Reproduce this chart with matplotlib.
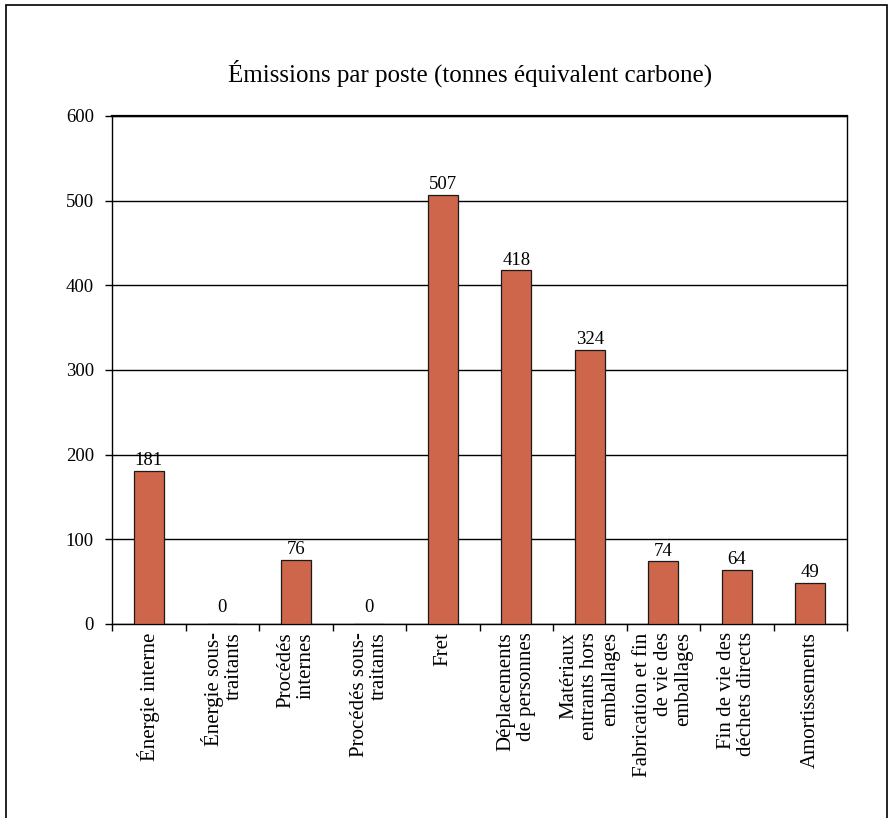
import matplotlib
matplotlib.use("Agg")
import matplotlib.pyplot as plt
from matplotlib.patches import Rectangle
import numpy as np

categories = [
    "Énergie interne",
    "Énergie sous-\ntraitants",
    "Procédés\ninternes",
    "Procédés sous-\ntraitants",
    "Fret",
    "Déplacements\nde personnes",
    "Matériaux\nentrants hors\nemballages",
    "Fabrication et fin\nde vie des\nemballages",
    "Fin de vie des\ndéchets directs",
    "Amortissements",
]
emissions = [181, 0, 76, 0, 507, 418, 324, 74, 64, 49]
y_ticks = [0, 100, 200, 300, 400, 500, 600]
title = "Émissions par poste (tonnes équivalent carbone)"

plt.rcParams["font.family"] = ["Liberation Serif", "DejaVu Serif"]

fig = plt.figure(figsize=(8.93, 8.18), dpi=100)
ax = fig.add_axes([112 / 893, 1 - 624 / 818, (847 - 112) / 893, (624 - 116) / 818])

# outer frame around the chart
fig.patches.append(Rectangle((6 / 893, -0.05), (887 - 6) / 893, 1.05 - 5 / 818,
                             transform=fig.transFigure, fill=False,
                             edgecolor="black", linewidth=1.2))

x = np.arange(len(categories))
bars = ax.bar(x, emissions, width=0.41, color="#CD664A", edgecolor="#1a1a1a",
              linewidth=0.9, zorder=3)

for xi, v in zip(x, emissions):
    off = 6 if v == 0 else 1
    ax.annotate(f"{v}", (xi, v), xytext=(0, off), textcoords="offset points",
                ha="center", va="bottom", fontsize=13.5, zorder=4)

ax.set_xlim(-0.5, len(categories) - 0.5)
ax.set_ylim(0, 600)
ax.set_yticks(y_ticks)
ax.set_yticklabels([str(t) for t in y_ticks], fontsize=13.5)
ax.yaxis.grid(True, color="black", linewidth=1.0, zorder=0)
ax.set_axisbelow(True)

ax.set_xticks(x)
ax.set_xticklabels(categories, rotation=90, fontsize=15, ha="center", va="top",
                   multialignment="right", linespacing=1.1)
ax.tick_params(axis="x", which="major", length=0, pad=6)
ax.set_xticks(np.arange(len(categories) + 1) - 0.5, minor=True)
ax.tick_params(axis="x", which="minor", length=5, width=1.0, direction="out")
ax.tick_params(axis="y", length=5, width=1.0, direction="out", pad=8)

for side in ["left", "bottom", "right"]:
    ax.spines[side].set_linewidth(1.0)
    ax.spines[side].set_color("black")
ax.spines["top"].set_linewidth(1.6)

fig.text(470 / 893, 1 - 73 / 818, title, ha="center", va="center", fontsize=18)

fig.savefig("out.png", dpi=100)
